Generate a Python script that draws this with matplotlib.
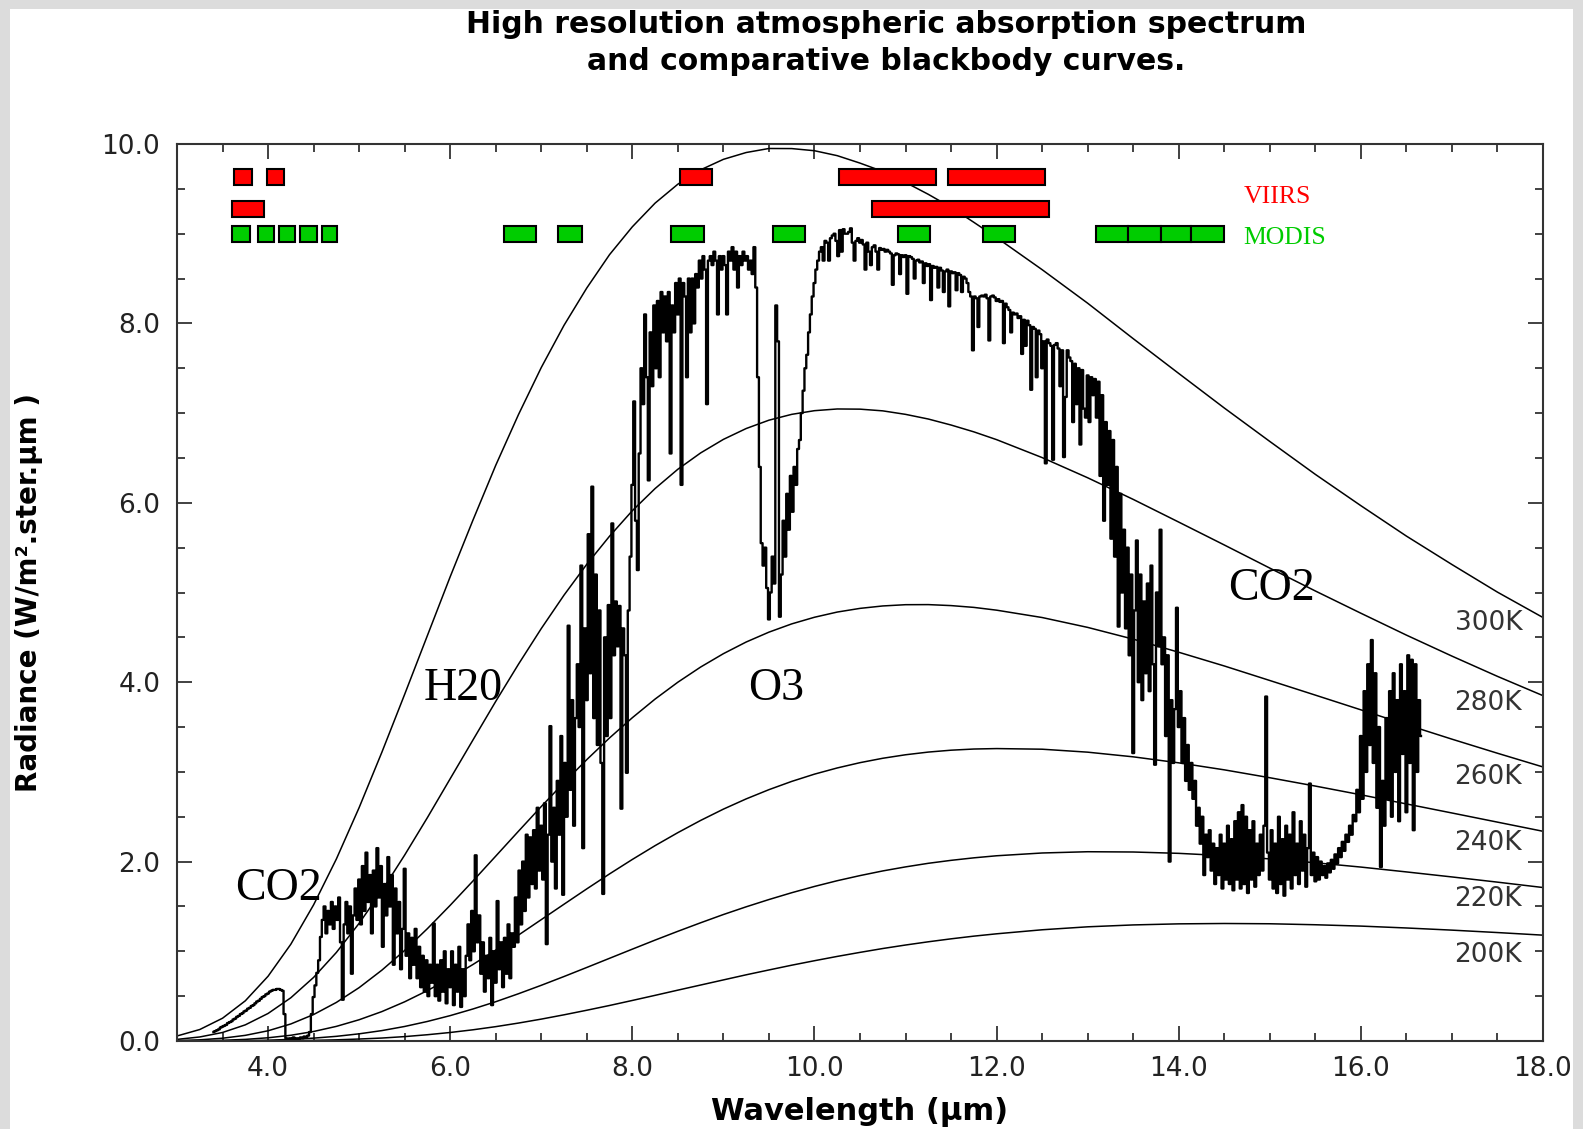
import matplotlib.pyplot as plt
import numpy as np
from matplotlib.patches import Rectangle
from matplotlib.ticker import MultipleLocator

# blackbody radiance (W/m2/sr/um) for 200-300 K
bb_wl = [3.0, 3.25, 3.5, 3.75, 4.0, 4.25, 4.5, 4.75, 5.0, 5.25, 5.5, 5.75, 6.0, 6.25, 6.5, 6.75,
         7.0, 7.25, 7.5, 7.75, 8.0, 8.25, 8.5, 8.75, 9.0, 9.25, 9.5, 9.75, 10.0, 10.25, 10.5, 10.75,
         11.0, 11.25, 11.5, 11.75, 12.0, 12.5, 13.0, 13.5, 14.0, 14.5, 15.0, 15.5, 16.0, 16.5,
         17.0, 17.5, 18.0]
bb_300 = [0.056, 0.128, 0.254, 0.448, 0.722, 1.079, 1.518, 2.029, 2.602, 3.220, 3.865, 4.521,
          5.176, 5.807, 6.418, 6.984, 7.508, 7.979, 8.395, 8.767, 9.077, 9.341, 9.552, 9.712,
          9.829, 9.905, 9.950, 9.949, 9.925, 9.870, 9.787, 9.694, 9.572, 9.439, 9.294, 9.127,
          8.957, 8.599, 8.225, 7.830, 7.442, 7.057, 6.684, 6.317, 5.968, 5.629, 5.312, 5.004, 4.721]
bb_280 = [0.018, 0.045, 0.095, 0.180, 0.307, 0.482, 0.709, 0.987, 1.312, 1.676, 2.073, 2.491,
          2.924, 3.356, 3.786, 4.201, 4.598, 4.971, 5.315, 5.628, 5.912, 6.159, 6.374, 6.556,
          6.707, 6.828, 6.921, 6.986, 7.027, 7.046, 7.044, 7.025, 6.986, 6.934, 6.867, 6.791,
          6.704, 6.504, 6.279, 6.038, 5.785, 5.530, 5.272, 5.017, 4.769, 4.525, 4.291, 4.065, 3.850]
bb_260 = [0.005, 0.013, 0.031, 0.063, 0.114, 0.190, 0.295, 0.430, 0.595, 0.790, 1.010, 1.253,
          1.513, 1.784, 2.061, 2.339, 2.614, 2.881, 3.137, 3.379, 3.604, 3.812, 4.000, 4.169,
          4.318, 4.448, 4.558, 4.650, 4.724, 4.782, 4.823, 4.850, 4.864, 4.865, 4.854, 4.834,
          4.803, 4.721, 4.611, 4.480, 4.334, 4.181, 4.019, 3.856, 3.692, 3.527, 3.365, 3.208, 3.055]
bb_240 = [0.001, 0.003, 0.008, 0.018, 0.036, 0.064, 0.106, 0.163, 0.237, 0.328, 0.437, 0.562,
          0.701, 0.853, 1.014, 1.181, 1.353, 1.525, 1.696, 1.863, 2.024, 2.178, 2.323, 2.459,
          2.585, 2.699, 2.802, 2.894, 2.975, 3.044, 3.103, 3.152, 3.191, 3.221, 3.242, 3.255,
          3.260, 3.253, 3.220, 3.168, 3.101, 3.023, 2.935, 2.842, 2.745, 2.643, 2.542, 2.440, 2.338]
bb_220 = [0.000, 0.001, 0.002, 0.004, 0.009, 0.018, 0.032, 0.052, 0.080, 0.116, 0.162, 0.218,
          0.283, 0.357, 0.438, 0.527, 0.621, 0.719, 0.820, 0.922, 1.024, 1.125, 1.223, 1.318,
          1.410, 1.496, 1.577, 1.653, 1.723, 1.787, 1.844, 1.896, 1.941, 1.981, 2.014, 2.042,
          2.065, 2.096, 2.110, 2.107, 2.092, 2.066, 2.030, 1.987, 1.939, 1.885, 1.829, 1.771, 1.711]
bb_200 = [0.000, 0.000, 0.000, 0.001, 0.002, 0.004, 0.007, 0.013, 0.022, 0.033, 0.049, 0.070,
          0.095, 0.125, 0.160, 0.200, 0.244, 0.292, 0.343, 0.396, 0.452, 0.509, 0.567, 0.624,
          0.681, 0.738, 0.792, 0.845, 0.895, 0.943, 0.988, 1.031, 1.070, 1.106, 1.139, 1.169,
          1.195, 1.240, 1.273, 1.294, 1.306, 1.310, 1.307, 1.296, 1.281, 1.260, 1.236, 1.209, 1.180]
bb_names = ['300K', '280K', '260K', '240K', '220K', '200K']
bb_label_y = [4.58, 3.69, 2.87, 2.13, 1.50, 0.88]

# measured spectrum, 0.02 um steps, one list per micron
spec_starts = [3.40, 4.00, 5.00, 6.00, 7.00, 8.00, 9.00, 10.00, 11.00, 12.00, 13.00, 14.00, 15.00, 16.00]
spec_3 = [0.10, 0.11, 0.12, 0.13, 0.15, 0.16, 0.17, 0.18, 0.20, 0.21,
          0.22, 0.24, 0.25, 0.27, 0.28, 0.30, 0.31, 0.33, 0.34, 0.36,
          0.37, 0.39, 0.40, 0.42, 0.44, 0.45, 0.47, 0.49, 0.50, 0.52]
spec_4 = [0.53, 0.55, 0.56, 0.57, 0.57, 0.58, 0.58, 0.57, 0.56, 0.30,
          0.03, 0.02, 0.03, 0.02, 0.04, 0.02, 0.03, 0.02, 0.04, 0.03,
          0.05, 0.04, 0.06, 0.10, 0.30, 0.49, 0.62, 0.76, 0.90, 1.16,
          1.35, 1.50, 1.20, 1.45, 1.30, 1.55, 1.25, 1.50, 1.35, 1.60,
          1.10, 0.46, 1.30, 1.55, 1.20, 1.50, 0.75, 1.40, 1.70, 1.35]
spec_5 = [1.80, 1.30, 1.95, 1.45, 2.10, 1.55, 1.85, 1.20, 1.90, 1.50,
          2.15, 1.60, 1.95, 1.05, 1.75, 1.40, 2.05, 1.50, 1.85, 0.85,
          1.70, 1.20, 1.55, 0.80, 1.25, 1.92, 0.95, 1.20, 0.70, 1.15,
          0.85, 1.25, 0.70, 1.05, 0.60, 0.95, 0.55, 0.90, 0.50, 0.85,
          0.65, 1.31, 0.50, 0.85, 0.45, 0.90, 0.55, 1.00, 0.42, 0.80]
spec_6 = [0.60, 1.00, 0.40, 0.85, 0.55, 1.05, 0.38, 0.80, 0.50, 0.95,
          1.30, 0.90, 1.45, 1.00, 2.07, 1.10, 1.40, 0.75, 1.10, 0.55,
          0.95, 0.70, 1.15, 0.40, 1.00, 0.65, 1.56, 0.80, 1.10, 0.60,
          1.15, 0.75, 1.30, 0.70, 1.20, 1.05, 1.60, 1.10, 1.90, 1.30,
          2.00, 1.45, 2.30, 1.60, 2.27, 1.75, 2.35, 1.70, 2.60, 1.90]
spec_7 = [2.40, 1.80, 2.65, 1.08, 2.30, 3.51, 2.00, 2.60, 1.70, 2.90,
          2.30, 3.40, 1.63, 3.10, 2.50, 4.63, 2.80, 3.80, 2.40, 3.60,
          4.20, 3.50, 5.30, 2.15, 4.60, 3.80, 5.65, 4.10, 6.18, 3.60,
          5.20, 3.30, 4.80, 3.10, 1.64, 4.50, 3.40, 4.86, 3.60, 5.77,
          4.30, 4.90, 4.40, 4.85, 2.59, 4.60, 4.30, 2.99, 4.80, 5.40]
spec_8 = [6.20, 7.13, 5.80, 5.25, 6.55, 7.50, 7.10, 8.10, 7.40, 6.25,
          7.90, 7.30, 8.20, 7.50, 8.25, 7.40, 8.35, 7.90, 8.30, 7.80,
          8.35, 6.55, 8.20, 7.90, 8.45, 8.10, 8.50, 6.20, 8.45, 8.30,
          7.40, 8.50, 7.90, 8.50, 8.00, 8.55, 8.40, 8.70, 8.50, 8.75,
          8.60, 7.10, 8.70, 8.75, 8.65, 8.80, 8.70, 8.10, 8.75, 8.60]
spec_9 = [8.75, 8.65, 8.10, 8.80, 8.70, 8.85, 8.60, 8.80, 8.40, 8.75,
          8.65, 8.80, 8.70, 8.75, 8.60, 8.70, 8.55, 8.85, 8.40, 7.40,
          6.40, 5.55, 5.30, 5.50, 5.05, 4.70, 5.00, 5.40, 5.10, 8.20,
          7.80, 4.73, 5.20, 5.80, 5.40, 6.10, 5.70, 6.30, 5.90, 6.40,
          6.20, 6.60, 6.70, 7.00, 7.25, 7.50, 7.65, 7.90, 8.10, 8.30]
spec_10 = [8.45, 8.60, 8.70, 8.80, 8.85, 8.70, 8.92, 8.90, 8.70, 8.95,
           8.98, 9.00, 8.92, 8.75, 9.04, 8.80, 9.05, 9.00, 9.00, 9.02,
           9.06, 8.90, 8.70, 8.92, 8.95, 8.90, 8.93, 8.88, 8.60, 8.90,
           8.80, 8.65, 8.85, 8.87, 8.80, 8.60, 8.84, 8.82, 8.83, 8.80,
           8.82, 8.80, 8.78, 8.43, 8.76, 8.78, 8.77, 8.55, 8.76, 8.74]
spec_11 = [8.76, 8.33, 8.75, 8.74, 8.72, 8.50, 8.70, 8.71, 8.68, 8.69,
           8.45, 8.67, 8.64, 8.66, 8.26, 8.64, 8.62, 8.63, 8.40, 8.62,
           8.59, 8.35, 8.58, 8.60, 8.19, 8.58, 8.56, 8.57, 8.37, 8.56,
           8.54, 8.35, 8.52, 8.50, 8.45, 8.35, 8.30, 7.70, 8.30, 8.28,
           7.96, 8.30, 8.31, 8.30, 8.32, 8.28, 7.81, 8.30, 8.31, 8.29]
spec_12 = [8.25, 8.27, 8.24, 8.25, 7.78, 8.22, 8.18, 8.15, 7.90, 8.12,
           8.10, 8.11, 8.06, 8.08, 7.66, 8.04, 7.75, 8.03, 7.98, 7.26,
           7.96, 7.94, 7.40, 7.92, 7.88, 7.50, 7.80, 6.44, 7.82, 7.78,
           7.75, 6.48, 7.76, 7.78, 7.72, 7.30, 7.70, 6.51, 7.18, 7.70,
           7.62, 7.58, 6.90, 7.55, 7.10, 7.50, 6.65, 7.48, 7.05, 6.95]
spec_13 = [7.42, 6.90, 7.40, 7.20, 7.38, 6.95, 7.35, 6.30, 7.20, 5.80,
           6.90, 6.20, 6.80, 5.60, 6.70, 5.40, 6.40, 4.62, 6.10, 5.00,
           5.70, 4.60, 5.50, 4.30, 5.20, 3.21, 4.80, 5.58, 4.00, 5.20,
           3.80, 4.90, 4.10, 5.10, 3.90, 5.30, 4.20, 3.08, 5.00, 4.40,
           5.70, 4.20, 4.50, 3.40, 4.30, 2.00, 3.80, 3.10, 3.70, 4.83]
spec_14 = [3.50, 3.90, 3.10, 3.60, 2.90, 3.30, 2.80, 3.10, 2.70, 2.90,
           2.40, 2.60, 2.20, 2.50, 1.85, 2.30, 2.05, 2.35, 1.90, 2.20,
           1.75, 2.15, 1.85, 2.30, 1.70, 2.20, 1.80, 2.40, 1.75, 2.25,
           1.68, 2.45, 1.80, 2.55, 1.70, 2.63, 1.75, 2.50, 1.65, 2.35,
           1.80, 2.45, 1.72, 2.20, 1.85, 2.30, 1.90, 2.40, 3.84, 2.10]
spec_15 = [1.80, 2.35, 1.70, 2.20, 1.65, 2.50, 1.75, 2.25, 1.62, 2.40,
           1.80, 2.30, 1.70, 2.55, 1.85, 2.20, 1.75, 2.45, 1.90, 2.30,
           1.72, 2.15, 2.87, 1.85, 2.10, 1.78, 2.05, 1.80, 2.00, 1.85,
           1.95, 1.82, 1.98, 1.88, 2.02, 1.92, 2.08, 1.98, 2.15, 2.05,
           2.22, 2.12, 2.30, 2.22, 2.40, 2.30, 2.52, 2.45, 2.80, 2.55]
spec_16 = [3.40, 2.70, 3.90, 3.00, 4.20, 3.30, 4.47, 3.10, 4.10, 2.60,
           3.50, 1.94, 2.90, 2.40, 3.60, 2.70, 3.90, 2.50, 4.10, 3.00,
           3.80, 2.45, 4.20, 3.20, 3.90, 2.55, 4.30, 3.10, 4.25, 2.35,
           4.20, 3.00, 3.80, 3.40]
spec_segs = [spec_3, spec_4, spec_5, spec_6, spec_7, spec_8, spec_9, spec_10,
             spec_11, spec_12, spec_13, spec_14, spec_15, spec_16]

# instrument bands (um)
viirs_row1 = [(3.63, 3.82), (3.99, 4.18), (8.52, 8.87), (10.27, 11.34), (11.47, 12.53)]
viirs_row2 = [(3.60, 3.95), (10.63, 12.57)]
modis_row = [(3.60, 3.80), (3.89, 4.06), (4.12, 4.30), (4.35, 4.54), (4.59, 4.76),
             (6.59, 6.94), (7.18, 7.45), (8.43, 8.79), (9.55, 9.90), (10.92, 11.27),
             (11.85, 12.20), (13.09, 13.44), (13.44, 13.80), (13.80, 14.14), (14.14, 14.50)]

x_ticks = [4, 6, 8, 10, 12, 14, 16, 18]
x_tick_labels = ['4.0', '6.0', '8.0', '10.0', '12.0', '14.0', '16.0', '18.0']
y_ticks = [0, 2, 4, 6, 8, 10]
y_tick_labels = ['0.0', '2.0', '4.0', '6.0', '8.0', '10.0']

W, H = 1583, 1129
fig = plt.figure(figsize=(W / 100, H / 100), dpi=100)
fig.patch.set_facecolor('white')
ax = fig.add_axes([177 / W, 1 - 1041 / H, (1543 - 177) / W, (1041 - 144) / H])

# blackbody curves
for vals in [bb_300, bb_280, bb_260, bb_240, bb_220, bb_200]:
    ax.plot(bb_wl, vals, color='black', lw=1.1, zorder=2)
for name, yl in zip(bb_names, bb_label_y):
    ax.text(17.40, yl, name, fontsize=19, color='#333333', ha='center', va='baseline', zorder=4)

# spectrum
spec_wl = np.concatenate([s + 0.02 * np.arange(len(v)) for s, v in zip(spec_starts, spec_segs)])
spec_val = np.concatenate(spec_segs)
ax.plot(spec_wl, spec_val, color='black', lw=1.7, drawstyle='steps-mid', zorder=2)

# band boxes
band_h = 0.18
for rows, yc, col in [(viirs_row1, 9.63, '#ff0000'), (viirs_row2, 9.28, '#ff0000'),
                      (modis_row, 9.00, '#00cc00')]:
    for lo, hi in rows:
        ax.add_patch(Rectangle((lo, yc - band_h / 2), hi - lo, band_h, facecolor=col,
                               edgecolor='black', lw=1.5, zorder=3))

serif = 'Liberation Serif'
ax.text(14.71, 9.34, 'VIIRS', color='#ff0000', fontsize=18.5, family=serif, va='baseline')
ax.text(14.71, 8.89, 'MODIS', color='#00cc00', fontsize=18.5, family=serif, va='baseline')
ax.text(4.11, 1.57, 'CO2', fontsize=33, family=serif, ha='center', va='baseline', zorder=4)
ax.text(6.14, 3.80, 'H20', fontsize=33, family=serif, ha='center', va='baseline', zorder=4)
ax.text(9.58, 3.80, 'O3', fontsize=33, family=serif, ha='center', va='baseline', zorder=4)
ax.text(15.02, 4.92, 'CO2', fontsize=33, family=serif, ha='center', va='baseline', zorder=4)

ax.set_xlim(3, 18)
ax.set_ylim(0, 10)
ax.set_xticks(x_ticks)
ax.set_xticklabels(x_tick_labels)
ax.set_yticks(y_ticks)
ax.set_yticklabels(y_tick_labels)
ax.xaxis.set_minor_locator(MultipleLocator(0.5))
ax.yaxis.set_minor_locator(MultipleLocator(0.5))
ax.tick_params(which='both', direction='in', top=True, right=True, color='#333333',
               labelcolor='#222222', labelsize=19)
ax.tick_params(which='major', length=11, width=1.3)
ax.tick_params(which='minor', length=6, width=1.3)
ax.tick_params(axis='x', pad=11)
ax.tick_params(axis='y', pad=12)
for sp in ax.spines.values():
    sp.set_color('#333333')
    sp.set_linewidth(1.5)

ax.set_xlabel('Wavelength (μm)', fontsize=22, fontweight='bold')
ax.xaxis.set_label_coords(0.5, -0.062)
ax.set_ylabel('Radiance (W/m².ster.μm )', fontsize=20, fontweight='bold')
ax.yaxis.set_label_coords(-0.098, 0.5)

fig.text(886 / W, 1 - 43 / H, 'High resolution atmospheric absorption spectrum\n'
         'and comparative blackbody curves.', fontsize=21.5, fontweight='bold',
         ha='center', va='center', linespacing=1.32)

# grey frame round the picture
frame = '#dcdcdc'
for x0, y0, w, h in [(0, 0, 10, H), (0, H - 9, W, 9), (1573, 0, W - 1573, H)]:
    fig.patches.append(Rectangle((x0 / W, y0 / H), w / W, h / H, transform=fig.transFigure,
                                 facecolor=frame, edgecolor='none', zorder=10))

fig.savefig('out.png', dpi=100)
